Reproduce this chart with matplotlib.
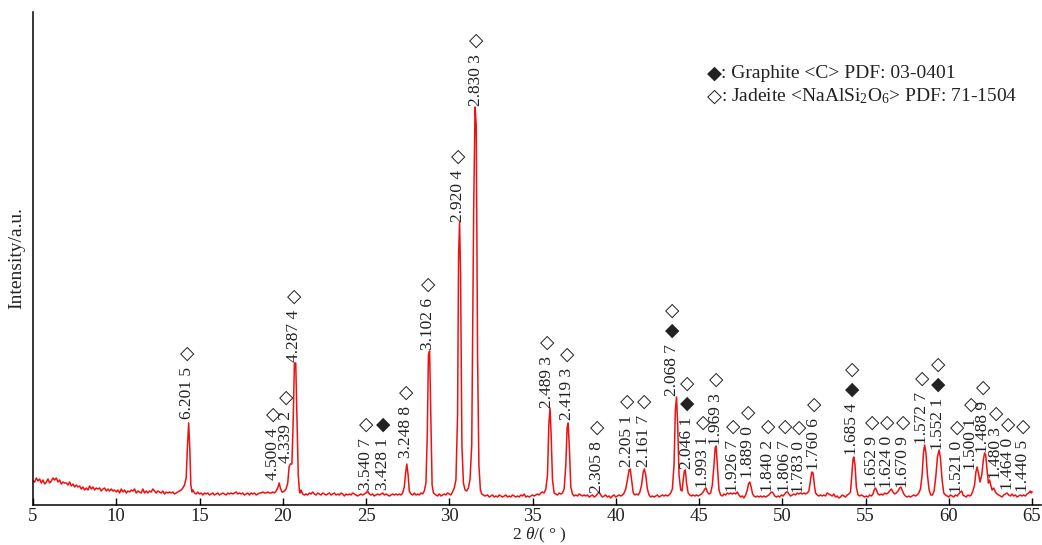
import matplotlib
matplotlib.use("Agg")
import matplotlib.pyplot as plt

plt.rcParams['font.family'] = ['Liberation Serif', 'DejaVu Sans']
plt.rcParams['mathtext.fontset'] = 'custom'
plt.rcParams['mathtext.rm'] = 'Liberation Serif'
plt.rcParams['mathtext.it'] = 'Liberation Serif:italic'
plt.rcParams['mathtext.bf'] = 'Liberation Serif:bold'

# ---- diffraction pattern (2theta in degrees, intensity in a.u.) ----
two_theta = [
    5.0, 5.1, 5.2, 5.3, 5.4, 5.5, 5.6, 5.7, 5.8, 5.9, 6.0, 6.1, 6.2, 6.3, 6.4, 6.5, 6.6, 6.7, 6.8, 6.9,
    7.0, 7.1, 7.2, 7.3, 7.4, 7.5, 7.6, 7.7, 7.8, 7.9, 8.0, 8.1, 8.2, 8.3, 8.4, 8.5, 8.6, 8.7, 8.8, 8.9,
    9.0, 9.1, 9.2, 9.3, 9.4, 9.5, 9.6, 9.7, 9.8, 9.9, 10.0, 10.1, 10.2, 10.3, 10.4, 10.5, 10.6, 10.7, 10.8, 10.9,
    11.0, 11.1, 11.2, 11.3, 11.4, 11.5, 11.6, 11.7, 11.8, 11.9, 12.0, 12.1, 12.2, 12.3, 12.4, 12.5, 12.6, 12.7, 12.8, 12.9,
    13.0, 13.1, 13.2, 13.3, 13.4, 13.5, 13.6, 13.7, 13.8, 13.9, 14.0, 14.1, 14.2, 14.28, 14.35, 14.42, 14.48, 14.55,
    14.6, 14.7, 14.8, 14.9, 15.0, 15.1, 15.2, 15.3, 15.4, 15.5, 15.6, 15.7, 15.8, 15.9, 16.0, 16.1, 16.2, 16.3, 16.4, 16.5,
    16.6, 16.7, 16.8, 16.9, 17.0, 17.1, 17.2, 17.3, 17.4, 17.5, 17.6, 17.7, 17.8, 17.9, 18.0, 18.1, 18.2, 18.3, 18.4, 18.5,
    18.6, 18.7, 18.8, 18.9, 19.0, 19.1, 19.2, 19.3, 19.4, 19.5, 19.6, 19.7, 19.78, 19.86, 19.95,
    20.0, 20.1, 20.2, 20.3, 20.38, 20.45, 20.55, 20.62, 20.7, 20.78, 20.85, 20.93, 21.0, 21.05, 21.1, 21.2,
    21.3, 21.4, 21.5, 21.6, 21.7, 21.8, 21.9, 22.0, 22.1, 22.2, 22.3, 22.4, 22.5, 22.6, 22.7, 22.8, 22.9, 23.0, 23.1, 23.2,
    23.3, 23.4, 23.5, 23.6, 23.7, 23.8, 23.9, 24.0, 24.1, 24.2, 24.3, 24.4, 24.5, 24.6, 24.7, 24.8, 24.9, 25.0, 25.1, 25.2,
    25.3, 25.4, 25.5, 25.6, 25.7, 25.8, 25.9, 26.0, 26.1, 26.2, 26.3, 26.4, 26.5, 26.6, 26.7, 26.8, 26.9, 27.0, 27.1, 27.2,
    27.3, 27.38, 27.45, 27.53, 27.6, 27.7, 27.8, 27.9, 28.0, 28.1, 28.2, 28.3, 28.4, 28.5, 28.6,
    28.68, 28.75, 28.82, 28.9, 28.97, 29.05, 29.2, 29.3, 29.4, 29.5, 29.6, 29.7, 29.8, 29.9, 30.0, 30.1, 30.2, 30.3, 30.4,
    30.5, 30.56, 30.62, 30.68, 30.76, 30.85, 30.95, 31.05, 31.15, 31.25, 31.35, 31.47, 31.55, 31.62, 31.7, 31.78, 31.87, 31.95,
    32.05, 32.15, 32.3, 32.4, 32.5, 32.6, 32.7, 32.8, 32.9, 33.0, 33.1, 33.2, 33.3, 33.4, 33.5, 33.6, 33.7, 33.8, 33.9, 34.0,
    34.1, 34.2, 34.3, 34.4, 34.5, 34.6, 34.7, 34.8, 34.9, 35.0, 35.1, 35.2, 35.3, 35.4, 35.5, 35.6, 35.7, 35.8,
    35.9, 35.98, 36.05, 36.12, 36.2, 36.3, 36.4, 36.5, 36.6, 36.7, 36.8, 36.9,
    37.0, 37.08, 37.14, 37.22, 37.3, 37.4, 37.5, 37.6, 37.7, 37.8, 37.9, 38.0, 38.1, 38.2, 38.3, 38.4, 38.5, 38.6, 38.7, 38.8,
    38.9, 39.0, 39.1, 39.2, 39.3, 39.4, 39.5, 39.6, 39.7, 39.8, 39.9, 40.0, 40.1, 40.2, 40.3, 40.4, 40.5,
    40.6, 40.7, 40.8, 40.87, 40.95, 41.05, 41.15, 41.25, 41.35, 41.45,
    41.55, 41.65, 41.72, 41.8, 41.9, 42.0, 42.1, 42.2, 42.3, 42.4, 42.5, 42.6, 42.7, 42.8, 42.9, 43.0, 43.1, 43.2, 43.3, 43.4,
    43.5, 43.58, 43.65, 43.72, 43.8, 43.9, 43.98,
    44.05, 44.12, 44.18, 44.25, 44.35, 44.45, 44.55, 44.65, 44.75, 44.85, 44.95, 45.05, 45.15, 45.25,
    45.35, 45.42, 45.5, 45.6, 45.7, 45.8,
    45.9, 45.97, 46.03, 46.1, 46.2, 46.3, 46.4, 46.5, 46.6, 46.7, 46.8, 46.9, 47.0, 47.1, 47.2, 47.3, 47.4, 47.5, 47.6, 47.7, 47.8, 47.9,
    47.97, 48.05, 48.13, 48.22, 48.3, 48.4, 48.5, 48.6, 48.7, 48.8, 48.9, 49.0, 49.1, 49.2, 49.3, 49.38, 49.45, 49.55, 49.65, 49.75,
    49.85, 49.95, 50.05, 50.15, 50.25, 50.32, 50.4, 50.5, 50.6, 50.7, 50.8, 50.9, 51.0, 51.1, 51.2, 51.3, 51.4, 51.5, 51.6, 51.7,
    51.77, 51.85, 51.93, 52.0, 52.1, 52.2, 52.3, 52.4, 52.5, 52.6, 52.7, 52.8, 52.9, 53.0, 53.1, 53.2, 53.3, 53.4, 53.5, 53.6,
    53.7, 53.8, 53.9, 54.0, 54.1,
    54.18, 54.25, 54.3, 54.37, 54.45, 54.55, 54.65, 54.75, 54.85, 54.95, 55.05, 55.15, 55.25, 55.35, 55.45, 55.52,
    55.6, 55.68, 55.75, 55.85, 55.95, 56.05, 56.15, 56.25, 56.35, 56.45,
    56.55, 56.65, 56.75, 56.85, 56.95,
    57.05, 57.12, 57.2, 57.3, 57.4, 57.5, 57.6, 57.7, 57.8, 57.9, 58.0, 58.1, 58.2, 58.3, 58.4,
    58.48, 58.55, 58.63, 58.72, 58.82, 58.92, 59.02, 59.12, 59.22, 59.32,
    59.42, 59.5, 59.6, 59.7, 59.8, 59.9, 60.0, 60.1, 60.2, 60.3, 60.4, 60.5, 60.6,
    60.7, 60.78, 60.85, 60.95, 61.05, 61.15, 61.25, 61.35, 61.45, 61.55,
    61.63, 61.7, 61.78, 61.88, 61.98, 62.08,
    62.15, 62.22, 62.3, 62.38, 62.45, 62.52, 62.6, 62.7, 62.8, 62.9, 63.0, 63.1, 63.2, 63.3, 63.4, 63.5, 63.6, 63.7, 63.8, 63.9,
    64.0, 64.1, 64.2, 64.3, 64.4, 64.5, 64.6, 64.7, 64.8, 64.9, 64.95, 65.0,
]
intensity = [
    24, 23, 27, 24, 26, 22, 25, 21, 23, 26, 22, 24, 27, 25, 27, 23, 25, 21, 23, 22,
    22, 20, 23, 19, 21, 18, 20, 18, 19, 16, 18, 15, 17, 15, 19, 16, 18, 15, 17, 16,
    17, 14, 16, 17, 14, 16, 14, 16, 14, 15, 13, 15, 12, 16, 13, 15, 12, 14, 13, 15,
    14, 16, 12, 14, 13, 12, 16, 12, 14, 12, 14, 13, 16, 14, 12, 14, 13, 12, 14, 11,
    13, 12, 13, 12, 13, 11, 12, 13, 14, 15, 17, 20, 27, 60, 82, 55, 20, 13,
    15, 12, 11, 13, 11, 12, 10, 12, 11, 12, 10, 11, 12, 10, 11, 12, 10, 11, 12, 11,
    10, 12, 11, 12, 11, 12, 13, 11, 12, 11, 12, 10, 11, 12, 10, 12, 11, 12, 10, 11,
    12, 12, 13, 12, 12, 13, 12, 12, 13, 12, 14, 17, 22, 17, 13,
    13, 14, 16, 22, 38, 41, 41, 80, 142, 142, 90, 30, 14, 12, 15, 11,
    10, 11, 10, 12, 11, 13, 11, 10, 12, 11, 10, 12, 11, 10, 11, 12, 10, 11, 12, 10,
    11, 10, 12, 11, 9, 11, 10, 11, 10, 12, 11, 10, 9, 10, 11, 10, 11, 12, 14, 11,
    10, 11, 9, 10, 11, 10, 11, 12, 10, 11, 10, 9, 10, 11, 10, 11, 10, 11, 10, 12,
    18, 32, 41, 30, 14, 11, 10, 12, 10, 11, 10, 12, 11, 14, 22,
    70, 150, 154, 80, 20, 12, 10, 9, 11, 9, 10, 11, 10, 12, 11, 10, 13, 17, 25,
    90, 250, 283, 230, 60, 22, 15, 14, 17, 26, 60, 300, 398, 380, 150, 40, 15, 11,
    10, 9, 10, 8, 9, 10, 8, 9, 8, 10, 9, 8, 9, 10, 8, 9, 8, 10, 9, 8,
    9, 8, 10, 9, 11, 8, 9, 8, 9, 10, 9, 10, 11, 10, 12, 13, 12, 16,
    30, 80, 97, 70, 25, 12, 11, 10, 12, 11, 12, 16,
    40, 78, 82, 55, 18, 11, 9, 10, 9, 11, 10, 9, 10, 9, 10, 8, 9, 10, 8, 9,
    11, 13, 10, 8, 9, 10, 8, 9, 7, 9, 10, 8, 9, 10, 9, 10, 12,
    16, 25, 35, 36, 25, 12, 10, 11, 10, 13,
    20, 33, 36, 30, 16, 10, 8, 9, 8, 9, 10, 8, 9, 10, 9, 10, 9, 10, 12, 16,
    40, 95, 108, 80, 30, 15, 14,
    25, 34, 35, 22, 12, 10, 9, 10, 9, 10, 9, 10, 11, 13,
    16, 17, 13, 11, 12, 20,
    40, 57, 59, 40, 15, 10, 9, 11, 10, 12, 11, 12, 11, 12, 11, 13, 10, 8, 9, 7, 10, 15,
    21, 23, 18, 11, 9, 8, 9, 8, 9, 8, 9, 8, 9, 10, 12, 13, 12, 9, 8, 9,
    8, 10, 9, 11, 13, 13, 11, 9, 10, 11, 10, 12, 11, 12, 11, 12, 11, 12, 14, 25,
    33, 32, 20, 12, 10, 9, 10, 9, 10, 9, 12, 11, 10, 9, 11, 8, 9, 7, 8, 10,
    9, 8, 10, 11, 13,
    30, 46, 48, 40, 18, 10, 9, 10, 9, 8, 9, 8, 10, 9, 11, 15,
    17, 14, 11, 10, 11, 10, 12, 11, 12, 14,
    16, 13, 11, 12, 14,
    17, 18, 15, 11, 9, 8, 9, 8, 9, 10, 9, 10, 12, 16, 30,
    52, 60, 52, 30, 15, 10, 10, 14, 28, 48,
    55, 47, 25, 12, 10, 9, 8, 10, 9, 8, 10, 9, 11,
    13, 14, 10, 9, 8, 10, 9, 10, 14, 20,
    33, 38, 32, 23, 30, 45,
    52, 50, 35, 22, 25, 20, 15, 17, 13, 11, 10, 9, 8, 10, 11, 12, 10, 9, 11, 9,
    10, 8, 9, 10, 9, 10, 9, 11, 12, 14, 12, 13,
]

# ---- peak annotations: position, bottom of label, d-spacing, phase symbols ----
label_theta = [14.25, 19.4, 20.2, 20.68, 25.0, 26.02, 27.4, 28.72, 30.53, 31.6,
               35.87, 37.07, 38.87, 40.68, 41.7, 43.38, 44.28, 45.24, 46.02, 47.04,
               47.94, 49.14, 50.17, 51.0, 51.9, 54.19, 55.39, 56.29, 57.25, 58.39,
               59.35, 60.5, 61.34, 62.06, 62.84, 63.56, 64.46]
label_base = [86, 25, 42, 143, 15, 15, 47, 155, 283, 399,
              97, 85, 12, 38, 38, 109, 36, 17, 60, 13,
              27, 13, 13, 12, 35, 50, 17, 17, 17, 61,
              55, 12, 35, 52, 26, 15, 13]
label_text = ["6.201 5", "4.500 4", "4.339 2", "4.287 4", "3.540 7", "3.428 1", "3.248 8", "3.102 6", "2.920 4", "2.830 3",
              "2.489 3", "2.419 3", "2.305 8", "2.205 1", "2.161 7", "2.068 7", "2.046 1", "1.993 1", "1.969 3", "1.926 7",
              "1.889 0", "1.840 2", "1.806 7", "1.783 0", "1.760 6", "1.685 4", "1.652 9", "1.624 0", "1.670 9", "1.572 7",
              "1.552 1", "1.521 0", "1.500 1", "1.488 9", "1.480 3", "1.464 0", "1.440 5"]
label_phase = ["◇", "◇", "◇", "◇", "◇", "◆", "◇", "◇", "◇", "◇",
               "◇", "◇", "◇", "◇", "◇", "◆◇", "◆◇", "◇", "◇", "◇",
               "◇", "◇", "◇", "◇", "◇", "◆◇", "◇", "◇", "◇", "◇",
               "◆◇", "◇", "◇", "◇", "◇", "◇", "◇"]

x_ticks = [5, 10, 15, 20, 25, 30, 35, 40, 45, 50, 55, 60, 65]

W, H = 1042, 545
fig = plt.figure(figsize=(W / 100, H / 100), dpi=100)
ax = fig.add_axes([33 / W, (H - 505) / H, (1041 - 33) / W, (505 - 12) / H])

ax.plot(two_theta, intensity, color='#f01010', lw=1.1)
ax.set_xlim(5, 65.54)
ax.set_ylim(0, 493)

for sp in ['top', 'right']:
    ax.spines[sp].set_visible(False)
for sp in ['left', 'bottom']:
    ax.spines[sp].set_linewidth(1.1)
    ax.spines[sp].set_color('black')

txt_col = '#222222'
ax.set_xticks(x_ticks)
ax.set_xticklabels([str(t) for t in x_ticks])
ax.set_yticks([])
ax.tick_params(axis='x', direction='in', length=5, width=1.0, labelsize=13.5, pad=2,
               colors='black', labelcolor=txt_col)

labels = []
for xt, yb, s in zip(label_theta, label_base, label_text):
    t = ax.text(xt, yb, s, rotation=90, ha='center', va='bottom', fontsize=12.5,
                color=txt_col)
    labels.append(t)

# phase symbols stacked above each label
fig.canvas.draw()
renderer = fig.canvas.get_renderer()
inv = ax.transData.inverted()
for t, ph in zip(labels, label_phase):
    bb = t.get_window_extent(renderer)
    xd = t.get_position()[0]
    for k, ch in enumerate(ph):
        yd = inv.transform((bb.x0, bb.y1 + 4 + k * 20))[1]
        ax.text(xd, yd, ch, ha='center', va='bottom', fontsize=13.5, color=txt_col,
                family=['DejaVu Sans'])

fig.text(707 / W, 1 - 73 / H, "◆", fontsize=14, color=txt_col, va='center', ha='left', family=['DejaVu Sans'])
fig.text(721 / W, 1 - 73 / H, ": Graphite <C> PDF: 03-0401", fontsize=14, color=txt_col, va='center', ha='left')
fig.text(707 / W, 1 - 96 / H, "◇", fontsize=14, color=txt_col, va='center', ha='left', family=['DejaVu Sans'])
fig.text(721 / W, 1 - 96 / H, r": Jadeite <NaAlSi$_2$O$_6$> PDF: 71-1504", fontsize=14, color=txt_col, va='center', ha='left')

fig.text(17 / W, 1 - 258 / H, "Intensity/a.u.", rotation=90, fontsize=14, color=txt_col, ha='center', va='center')
fig.text(539 / W, 1 - 535.5 / H, r"2 $\theta$/( ° )", fontsize=12.5, color=txt_col, ha='center', va='center')

fig.savefig("out.png", dpi=100)
